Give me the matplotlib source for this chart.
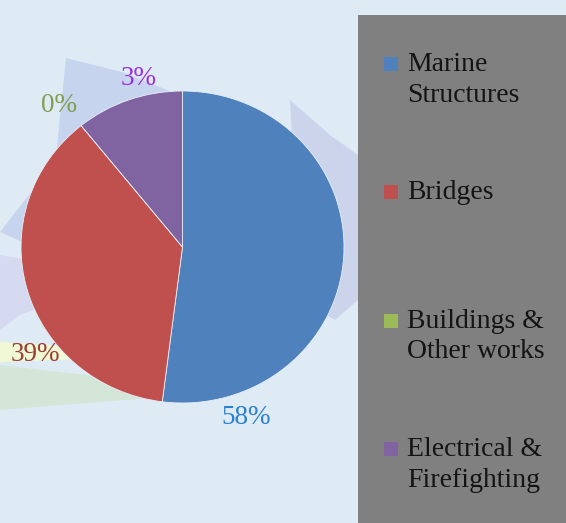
import numpy as np
import matplotlib
matplotlib.use("Agg")
from matplotlib import pyplot as plt
from matplotlib.patches import Polygon, Rectangle

# slice shares as drawn, and the percentage labels as printed on the chart
categories = ["Marine\nStructures", "Bridges", "Buildings &\nOther works", "Electrical &\nFirefighting"]
shares = [52.0, 37.2, 0.0, 10.8]
pct_labels = ["58%", "39%", "0%", "3%"]

colors = ["#4f81bd", "#c0504d", "#9bbb59", "#8064a2"]
label_colors = ["#2a7fd0", "#9c3b37", "#7f9f4f", "#9b2fe6"]
# label spots (data coords of the pie axes)
label_pos = [(0.394, -1.09), (-0.913, -0.692), (-0.765, 0.904), (-0.269, 1.077)]

plt.rcParams["font.family"] = ["Liberation Serif", "DejaVu Serif"]

fig = plt.figure(figsize=(5.66, 5.23), dpi=100)
fig.patch.set_facecolor("#deebf5")

# background layer in pixel coords (blurry shapes behind the pie)
bg = fig.add_axes([0, 0, 1, 1])
bg.set_xlim(0, 566)
bg.set_ylim(523, 0)
bg.axis("off")
shapes = [
    ([(0, 232), (28, 196), (55, 166), (66, 58), (122, 72), (182, 96), (182, 247), (40, 250)], "#b9c5e8", 0.6),
    ([(0, 255), (40, 262), (60, 300), (20, 315), (0, 330)], "#d2d3f0", 0.7),
    ([(290, 100), (330, 135), (358, 155), (358, 300), (335, 320), (300, 300)], "#c3cbe6", 0.7),
    ([(0, 342), (60, 346), (110, 358), (0, 362)], "#f3fbd0", 0.9),
    ([(0, 365), (130, 380), (150, 398), (0, 410)], "#d3e6d5", 0.9),
]
for pts, c, a in shapes:
    bg.add_patch(Polygon(pts, closed=True, facecolor=c, edgecolor="none", alpha=a))

# grey legend panel
bg.add_patch(Rectangle((358, 15), 208, 508, facecolor="#808080", edgecolor="none"))

# pie
ax = fig.add_axes([21 / 566, 1 - 403 / 523, 323 / 566, 312 / 523])
ax.pie(shares, colors=colors, startangle=90, counterclock=False,
       wedgeprops=dict(edgecolor="#e8eef7", linewidth=0.6))
ax.set_aspect("auto")
ax.set_xlim(-1, 1)
ax.set_ylim(-1, 1)
ax.axis("off")

for txt, (x, y), c in zip(pct_labels, label_pos, label_colors):
    ax.text(x, y, txt, color=c, fontsize=19.5, ha="center", va="center", clip_on=False)

# legend entries
y0 = 64
step = 128.3
for i, (name, c) in enumerate(zip(categories, colors)):
    yc = y0 + i * step
    bg.add_patch(Rectangle((384, yc - 7), 14, 14, facecolor=c, edgecolor="none"))
    bg.text(407, yc - 12, name, fontsize=20, color="#141414", ha="left", va="top",
            linespacing=1.3)

fig.savefig("out.png", dpi=100, facecolor=fig.get_facecolor())
